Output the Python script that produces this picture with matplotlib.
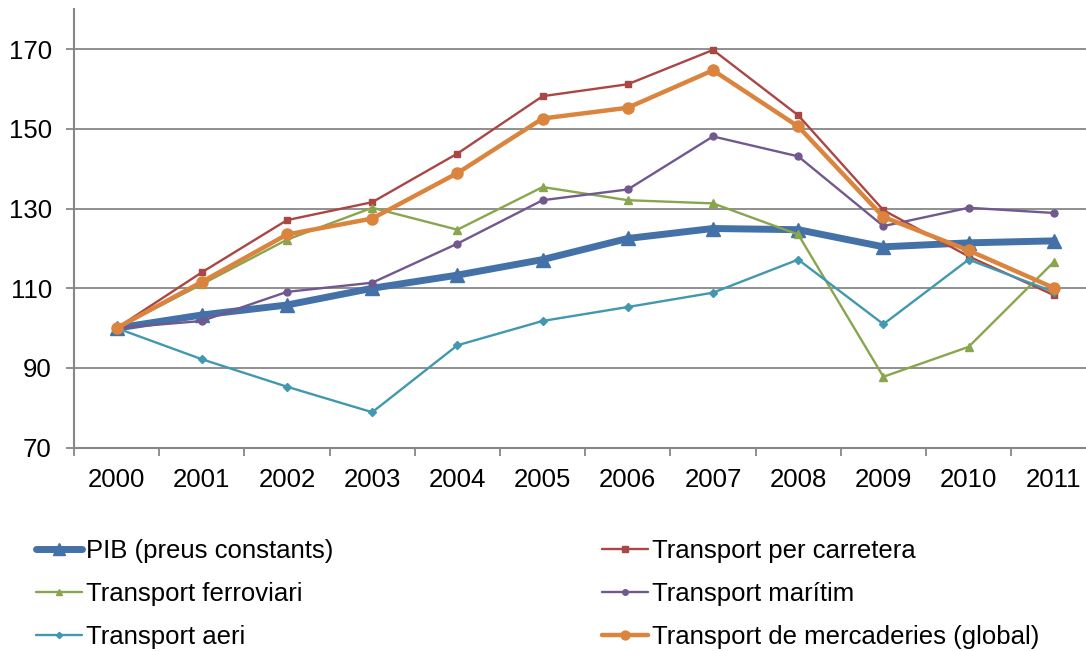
import matplotlib
matplotlib.use("Agg")
import matplotlib.pyplot as plt
from matplotlib.lines import Line2D

plt.rcParams['font.family'] = ['Liberation Sans', 'DejaVu Sans']

years = ['2000', '2001', '2002', '2003', '2004', '2005',
         '2006', '2007', '2008', '2009', '2010', '2011']

pib = [100, 103.3, 105.8, 110.0, 113.3, 117.2, 122.5, 125.0, 124.7, 120.4, 121.4, 121.9]
carretera = [100, 114.0, 127.1, 131.6, 143.8, 158.2, 161.2, 169.8, 153.4, 129.6, 118.0, 108.3]
ferroviari = [100, 111.0, 122.2, 130.2, 124.7, 135.4, 132.1, 131.3, 123.5, 87.8, 95.3, 116.6]
maritim = [100, 101.8, 109.1, 111.4, 121.2, 132.1, 134.8, 148.1, 143.1, 125.6, 130.2, 128.9]
aeri = [100, 92.2, 85.3, 78.9, 95.7, 101.8, 105.3, 108.9, 117.2, 101.0, 117.2, 109.1]
mercaderies = [100, 111.6, 123.5, 127.5, 138.9, 152.6, 155.3, 164.7, 150.6, 127.9, 119.5, 110.1]

yticks = [70, 90, 110, 130, 150, 170]

FS = 18.5

W, H = 1086, 651
fig = plt.figure(figsize=(W / 100, H / 100), dpi=100)
left_px, right_px, top_px, bottom_px = 74, 1096.4, 9.3, 447.7
ax = fig.add_axes([left_px / W, 1 - bottom_px / H,
                   (right_px - left_px) / W, (bottom_px - top_px) / H])

x = list(range(len(years)))

series = [
    ('PIB (preus constants)', pib, '#4471A8', 5.0, '^', 10.5),
    ('Transport per carretera', carretera, '#AA4643', 1.7, 's', 5.0),
    ('Transport ferroviari', ferroviari, '#89A54E', 1.7, '^', 6.0),
    ('Transport marítim', maritim, '#71588F', 1.7, 'o', 5.0),
    ('Transport aeri', aeri, '#4198AF', 1.7, 'D', 4.0),
    ('Transport de mercaderies (global)', mercaderies, '#DB843D', 3.2, 'o', 8.0),
]

for i, (name, vals, color, lw, mk, ms) in enumerate(series):
    ax.plot(x, vals, color=color, lw=lw, marker=mk, ms=ms,
            markeredgecolor=color, markerfacecolor=color,
            solid_joinstyle='round', zorder=3 + i, label=name)

ax.set_xlim(-0.5, 11.5)
ax.set_ylim(70, 180)

grid_color = '#878787'
ax.set_yticks(yticks)
ax.set_yticklabels([str(v) for v in yticks])
for v in yticks[1:]:
    ax.axhline(v, color=grid_color, lw=1.3, zorder=1)

# category boundaries carry the tick marks, labels sit at category centres
ax.set_xticks([i - 0.5 for i in range(len(years) + 1)])
ax.set_xticklabels([])
ax.set_xticks(x, minor=True)
ax.set_xticklabels(years, minor=True)
ax.tick_params(axis='x', which='minor', length=0, pad=14.8, labelsize=FS)
ax.tick_params(axis='x', which='major', length=6, width=1.3, color=grid_color)
ax.tick_params(axis='y', length=6, width=1.3, color=grid_color, pad=10, labelsize=FS)

for s in ('top', 'right'):
    ax.spines[s].set_visible(False)
for s in ('left', 'bottom'):
    ax.spines[s].set_color(grid_color)
    ax.spines[s].set_linewidth(1.5)


def legend_handle(name):
    _, _, color, lw, mk, ms = next(s for s in series if s[0] == name)
    return Line2D([0], [0], color=color, lw=lw, marker=mk, ms=ms * 0.8,
                  markeredgecolor=color, markerfacecolor=color,
                  solid_capstyle='round')


left_names = ['PIB (preus constants)', 'Transport ferroviari', 'Transport aeri']
right_names = ['Transport per carretera', 'Transport marítim',
               'Transport de mercaderies (global)']

common = dict(frameon=False, fontsize=FS, handlelength=1.8,
              handletextpad=0.15, labelspacing=0.74, borderpad=0,
              borderaxespad=0, loc='upper left')
fig.legend([legend_handle(n) for n in left_names], left_names,
           bbox_to_anchor=(36 / W, 1 - 539 / H), **common)
fig.legend([legend_handle(n) for n in right_names], right_names,
           bbox_to_anchor=(602 / W, 1 - 539 / H), **common)

fig.savefig('out.png', dpi=100)
